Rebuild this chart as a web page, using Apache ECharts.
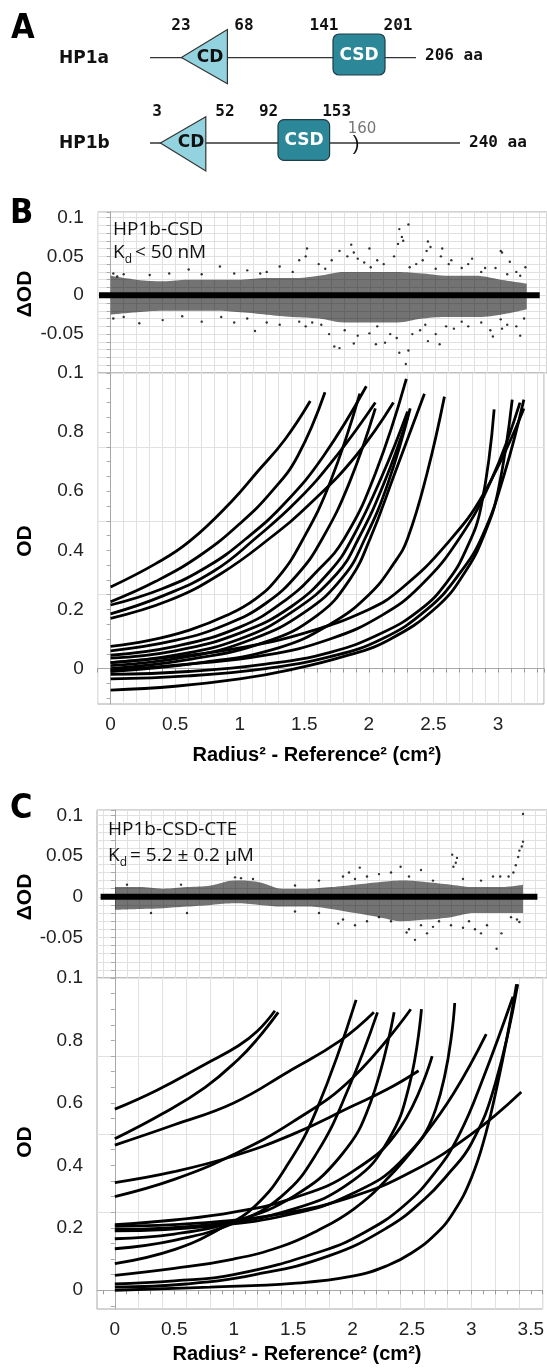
<!DOCTYPE html>
<html><head><meta charset="utf-8">
<script src="https://cdn.jsdelivr.net/npm/echarts@6.0.0/dist/echarts.min.js"></script>
<style>html,body{margin:0;padding:0;background:#fff}#chart{width:547px;height:1368px}</style>
</head><body><div id="chart"></div>
<script>
// ---------------- Panel A (domain schematic) ----------------
const hp1aNumbers = ['23','68','141','201'];
const hp1bNumbers = ['3','52','92','153'];
const hp1aLength = '206 aa';
const hp1bLength = '240 aa';
const hp1bMark = '160';

// ---------------- Tick values / labels ----------------
const xTickValuesB = [0,0.5,1,1.5,2,2.5,3];
const xTickLabelsB = ['0','0.5','1','1.5','2','2.5','3'];
const xTickValuesC = [0,0.5,1,1.5,2,2.5,3,3.5];
const xTickLabelsC = ['0','0.5','1','1.5','2','2.5','3','3.5'];
const resTickValues = [0.1,0.05,0,-0.05,-0.1];
const resTickLabels = ['0.1','0.05','0','-0.05','0.1'];
const odTickValues = [0,0.2,0.4,0.6,0.8];
const odTickLabels = ['0','0.2','0.4','0.6','0.8'];

// ---------------- Panel B: fitted OD curves [r2-ref2, OD] ----------------
const fitB01 = [[0,0.276],[0.35,0.355],[0.61,0.43],[0.94,0.567],[1.135,0.665],[1.35,0.775],[1.546,0.905]];
const fitB02 = [[0,0.226],[0.35,0.295],[0.7,0.385],[1.0,0.49],[1.25,0.6],[1.45,0.72],[1.66,0.935]];
const fitB03 = [[0,0.215],[0.4,0.27],[0.75,0.345],[1.05,0.44],[1.35,0.56],[1.65,0.72],[1.98,0.955]];
const fitB04 = [[0,0.185],[0.4,0.245],[0.8,0.33],[1.12,0.44],[1.45,0.57],[1.75,0.72],[2.05,0.90]];
const fitB05 = [[0,0.17],[0.45,0.23],[0.85,0.32],[1.23,0.44],[1.55,0.56],[1.9,0.72],[2.19,0.90]];
const fitB06 = [[0,0.075],[0.3,0.095],[0.61,0.13],[0.9,0.18],[1.12,0.235],[1.3,0.31],[1.48,0.43],[1.7,0.63],[1.93,0.93]];
const fitB07 = [[0,0.06],[0.5,0.095],[0.9,0.15],[1.2,0.22],[1.45,0.32],[1.64,0.44],[1.85,0.63],[2.05,0.88]];
const fitB08 = [[0,0.045],[0.5,0.075],[1.0,0.14],[1.35,0.23],[1.6,0.33],[1.81,0.44],[2.05,0.66],[2.29,0.98]];
const fitB09 = [[0,0.035],[0.5,0.06],[1.0,0.12],[1.4,0.21],[1.7,0.33],[1.87,0.44],[2.1,0.65],[2.3,0.87]];
const fitB10 = [[0,0.02],[0.5,0.045],[1.0,0.1],[1.4,0.19],[1.75,0.32],[1.92,0.44],[2.12,0.63],[2.3,0.85]];
const fitB11 = [[0,0.01],[0.6,0.04],[1.1,0.1],[1.5,0.19],[1.8,0.31],[1.97,0.44],[2.15,0.63],[2.32,0.88]];
const fitB12 = [[0,0.0],[0.6,0.03],[1.2,0.09],[1.6,0.18],[1.85,0.3],[2.01,0.44],[2.2,0.66],[2.43,0.93]];
const fitB13 = [[0,-0.01],[0.7,0.02],[1.3,0.07],[1.7,0.15],[2.0,0.25],[2.2,0.36],[2.3,0.44],[2.45,0.66],[2.585,0.92]];
const fitB14 = [[0,0.02],[0.5,0.04],[1.0,0.07],[1.5,0.12],[2.0,0.2],[2.25,0.27],[2.6,0.42],[2.9,0.6],[3.2,0.88]];
const fitB15 = [[0,-0.005],[0.6,0.015],[1.2,0.045],[1.7,0.1],[2.1,0.18],[2.4,0.28],[2.7,0.44],[2.95,0.64],[3.17,0.9]];
const fitB16 = [[0,-0.02],[0.6,-0.01],[1.2,0.015],[1.7,0.055],[2.1,0.12],[2.4,0.2],[2.6,0.29],[2.75,0.4],[2.87,0.55],[2.97,0.877]];
const fitB17 = [[0,-0.073],[0.5,-0.06],[1.0,-0.035],[1.38,-0.005],[1.8,0.04],[2.15,0.096],[2.53,0.21],[2.75,0.33],[2.89,0.45],[3.0,0.6],[3.11,0.91]];
const fitB18 = [[0,-0.035],[0.6,-0.025],[1.2,0.0],[1.7,0.04],[2.1,0.1],[2.45,0.2],[2.7,0.32],[2.88,0.45],[3.05,0.66],[3.2,0.91]];

// ---------------- Panel B: residuals ----------------
const bandXB = [0,0.2,0.4,0.6,0.8,1.0,1.2,1.4,1.6,1.8,2.0,2.2,2.4,2.6,2.8,3.0,3.2];
const bandUpB = [0.025,0.02,0.018,0.02,0.02,0.02,0.022,0.022,0.025,0.03,0.03,0.03,0.028,0.025,0.025,0.02,0.015];
const bandLoB = [-0.025,-0.022,-0.02,-0.02,-0.02,-0.022,-0.025,-0.028,-0.03,-0.035,-0.035,-0.035,-0.03,-0.028,-0.028,-0.025,-0.018];
const residPosB = [[2.29,0.091],[2.22,0.085],[2.21,0.066],[2.44,0.069],[2.55,0.06],[1.85,0.065],[1.99,0.06],[1.51,0.06],[1.76,0.057],[3.0,0.057],[3.01,0.055],[2.78,0.047],[3.07,0.043],[3.19,0.036],[0.6,0.033],[0.84,0.037],[1.3,0.037],[2.43,0.057],[2.54,0.05],[0.02,0.028],[0.1,0.027],[0.45,0.028],[1.05,0.032],[1.45,0.045],[1.5,0.05],[1.82,0.05],[1.87,0.055],[1.95,0.042],[2.05,0.045],[2.18,0.05],[2.24,0.075],[2.25,0.07],[2.4,0.045],[2.46,0.062],[2.6,0.04],[2.62,0.045],[2.7,0.035],[2.75,0.04],[2.88,0.035],[2.96,0.035],[3.12,0.03],[3.15,0.025],[1.2,0.03],[1.6,0.04],[1.7,0.045],[1.9,0.047],[2.1,0.04],[2.35,0.04],[0.05,0.024],[0.3,0.026],[0.7,0.027],[0.95,0.028],[1.15,0.028],[1.4,0.03],[1.65,0.034],[2.0,0.036],[2.3,0.036],[2.5,0.034],[2.85,0.03],[3.05,0.027]];
const residNegB = [[2.27,-0.0885],[2.22,-0.074],[2.29,-0.071],[1.72,-0.066],[1.76,-0.068],[1.87,-0.062],[2.04,-0.063],[2.11,-0.061],[2.44,-0.059],[2.53,-0.063],[2.94,-0.053],[3.15,-0.052],[1.11,-0.046],[0.22,-0.036],[0.02,-0.03],[2.64,-0.043],[1.99,-0.049],[3.01,-0.043],[0.4,-0.032],[0.7,-0.034],[0.95,-0.035],[1.3,-0.038],[1.5,-0.04],[1.68,-0.05],[1.8,-0.045],[1.9,-0.052],[2.15,-0.05],[2.2,-0.055],[2.32,-0.05],[2.38,-0.045],[2.5,-0.05],[2.58,-0.04],[2.75,-0.04],[2.85,-0.035],[2.92,-0.045],[3.05,-0.038],[3.12,-0.04],[3.18,-0.03],[1.2,-0.035],[1.55,-0.035],[0.1,-0.028],[0.55,-0.027],[0.85,-0.028],[1.05,-0.03],[1.45,-0.034],[1.62,-0.038],[2.05,-0.04],[2.42,-0.038],[2.7,-0.034],[3.0,-0.031]];
const zeroLineB = [[-0.09,0],[3.3,0]];

// ---------------- Panel C: fitted OD curves ----------------
const fitC01 = [[0,0.58],[0.35,0.64],[0.76,0.724],[1.04,0.783],[1.2,0.83],[1.347,0.895]];
const fitC02 = [[0,0.485],[0.4,0.565],[0.76,0.65],[1.04,0.74],[1.2,0.805],[1.375,0.89]];
const fitC03 = [[0,0.465],[0.5,0.53],[1.0,0.6],[1.46,0.7],[1.9,0.8],[2.18,0.89]];
const fitC04 = [[0,0.345],[0.5,0.38],[1.0,0.43],[1.5,0.5],[2.0,0.59],[2.3,0.645],[2.556,0.703]];
const fitC05 = [[0,0.30],[0.5,0.355],[1.0,0.435],[1.5,0.54],[2.0,0.68],[2.49,0.9]];
const fitC06 = [[0,0.21],[0.5,0.225],[1.0,0.25],[1.5,0.295],[2.0,0.38],[2.4,0.52],[2.67,0.75]];
const fitC07 = [[0,0.205],[0.7,0.215],[1.4,0.245],[2.0,0.3],[2.5,0.38],[3.0,0.5],[3.42,0.635]];
const fitC08 = [[0,0.195],[0.8,0.21],[1.5,0.26],[2.0,0.35],[2.3,0.48],[2.48,0.66],[2.58,0.9]];
const fitC09 = [[0,0.19],[0.8,0.205],[1.5,0.245],[2.0,0.31],[2.4,0.41],[2.7,0.58],[2.86,0.92]];
const fitC10 = [[0,0.165],[0.5,0.18],[1.0,0.22],[1.5,0.3],[1.9,0.43],[2.15,0.6],[2.35,0.89]];
const fitC11 = [[0,0.133],[0.5,0.16],[1.0,0.215],[1.4,0.3],[1.7,0.44],[1.97,0.65],[2.21,0.89]];
const fitC12 = [[0,0.085],[0.5,0.13],[0.9,0.2],[1.18,0.27],[1.45,0.4],[1.7,0.58],[2.03,0.93]];
const fitC13 = [[0,0.048],[0.5,0.07],[1.0,0.1],[1.4,0.14],[1.7,0.19],[2.01,0.26],[2.3,0.36],[2.57,0.48],[2.85,0.63],[3.125,0.82]];
const fitC14 = [[0,0.02],[0.5,0.03],[1.0,0.05],[1.74,0.125],[2.1,0.185],[2.43,0.27],[2.7,0.38],[2.9,0.5],[3.1,0.68],[3.35,0.94]];
const fitC15 = [[0,0.01],[0.6,0.02],[1.18,0.05],[1.8,0.11],[2.29,0.2],[2.6,0.29],[2.8,0.37],[3.0,0.47],[3.2,0.66],[3.39,0.98]];
const fitC16 = [[0,0.0],[0.8,0.01],[1.5,0.022],[2.0,0.045],[2.3,0.08],[2.5,0.12],[2.7,0.18],[2.85,0.25],[3.0,0.36],[3.12,0.5],[3.22,0.66],[3.32,0.85],[3.38,0.98]];

// ---------------- Panel C: residuals ----------------
const bandXC = [0,0.2,0.4,0.6,0.8,1.0,1.2,1.4,1.6,1.8,2.0,2.2,2.4,2.6,2.8,3.0,3.2,3.4];
const bandUpC = [0.012,0.012,0.01,0.012,0.014,0.02,0.018,0.01,0.01,0.012,0.015,0.018,0.02,0.018,0.015,0.012,0.012,0.015];
const bandLoC = [-0.016,-0.015,-0.014,-0.012,-0.01,-0.008,-0.01,-0.012,-0.012,-0.015,-0.02,-0.025,-0.03,-0.028,-0.025,-0.02,-0.02,-0.02];
const residPosC = [[3.40,0.102],[3.40,0.068],[3.39,0.062],[3.37,0.057],[3.36,0.049],[3.34,0.039],[3.32,0.03],[2.81,0.052],[2.85,0.048],[2.82,0.037],[2.84,0.042],[2.04,0.036],[2.38,0.037],[2.55,0.033],[3.21,0.025],[2.3,0.03],[2.2,0.028],[1.9,0.025],[0.1,0.015],[0.55,0.015],[1.0,0.024],[1.05,0.023],[1.15,0.022],[1.5,0.014],[1.7,0.02],[2.1,0.025],[2.45,0.025],[2.65,0.02],[2.9,0.022],[3.05,0.02],[3.15,0.025],[3.28,0.025],[2.0,0.022],[1.95,0.03]];
const residNegC = [[2.5,-0.053],[3.18,-0.064],[2.43,-0.044],[3.05,-0.045],[3.22,-0.045],[1.86,-0.033],[2.0,-0.035],[3.37,-0.031],[2.65,-0.037],[2.45,-0.04],[2.55,-0.035],[2.7,-0.03],[2.9,-0.038],[2.95,-0.03],[3.1,-0.035],[3.3,-0.025],[3.35,-0.028],[1.9,-0.028],[2.1,-0.03],[2.2,-0.025],[2.3,-0.03],[0.3,-0.02],[0.6,-0.02],[1.5,-0.018],[1.7,-0.02],[2.8,-0.035],[3.0,-0.04],[2.6,-0.045]];
const zeroLineC = [[-0.12,0],[3.52,0]];

const fitsB = [fitB01,fitB02,fitB03,fitB04,fitB05,fitB06,fitB07,fitB08,fitB09,fitB10,fitB11,fitB12,fitB13,fitB14,fitB15,fitB16,fitB17,fitB18];
const fitsC = [fitC01,fitC02,fitC03,fitC04,fitC05,fitC06,fitC07,fitC08,fitC09,fitC10,fitC11,fitC12,fitC13,fitC14,fitC15,fitC16];

// ---------------- helpers ----------------
const GRID = '#e1e1e1', NONE = 'rgba(0,0,0,0)', FRAME = '#a8a8a8';
const TICKFONT = {fontFamily:'"Liberation Sans", Arial, sans-serif', fontSize:19, color:'#222'};
function steps(a, b, s){ const out=[]; const n=Math.round((b-a)/s); for(let i=0;i<=n;i++) out.push(+(a+i*s).toFixed(4)); return out; }
const odMinorTicksB = steps(-0.1, 1.0, 0.05);
const odMinorTicksC = steps(-0.05, 1.0, 0.05);
const xMinorTicksC = steps(-0.1, 3.6, 0.1);

function pick(values, labels){
  return function(v){ for (let i=0;i<values.length;i++){ if (Math.abs(values[i]-v)<1e-6) return labels[i]; } return ''; };
}
function zip(xs, ys){ return xs.map((x,i)=>[x, ys[i]]); }
function fitSeries(d, xi, yi){
  return {type:'line', xAxisIndex:xi, yAxisIndex:yi, data:d, smooth:0.45,
    symbol:'none', showSymbol:false, lineStyle:{color:'#000', width:2.8}, silent:true, z:3, clip:true};
}
function bandSeries(xs, ys, xi, yi){
  return {type:'line', xAxisIndex:xi, yAxisIndex:yi, data:zip(xs,ys), smooth:0.4, symbol:'none',
    lineStyle:{width:0}, areaStyle:{color:'#000', opacity:0.55, origin:'auto'}, silent:true, z:2};
}
function dotSeries(d, xi, yi){
  return {type:'scatter', xAxisIndex:xi, yAxisIndex:yi, data:d, symbolSize:2.4, itemStyle:{color:'#000'}, silent:true, z:4};
}
function zeroSeries(d, xi, yi){
  return {type:'line', xAxisIndex:xi, yAxisIndex:yi, data:d, symbol:'none', lineStyle:{color:'#000', width:6}, silent:true, z:5};
}

const series = [];
fitsB.forEach(f=>series.push(fitSeries(f,1,1)));
fitsC.forEach(f=>series.push(fitSeries(f,3,3)));
series.push(bandSeries(bandXB, bandUpB, 0, 0), bandSeries(bandXB, bandLoB, 0, 0));
series.push(bandSeries(bandXC, bandUpC, 2, 2), bandSeries(bandXC, bandLoC, 2, 2));
series.push(dotSeries(residPosB,0,0), dotSeries(residNegB,0,0), dotSeries(residPosC,2,2), dotSeries(residNegC,2,2));
series.push(zeroSeries(zeroLineB,0,0), zeroSeries(zeroLineC,2,2));

function xAx(grid, min, max, interval, colors, labels, tickVals){
  const tick = {show:!!labels, length:4, lineStyle:{color:'#999'}};
  if (labels && tickVals) tick.customValues = tickVals;
  return {type:'value', gridIndex:grid, min, max, interval,
    axisLine:{show:!!labels, lineStyle:{color:FRAME}},
    axisTick:tick,
    axisLabel: labels ? Object.assign({show:true, margin:11, formatter:pick(labels[0], labels[1])}, TICKFONT) : {show:false},
    splitLine:{show:true, lineStyle:{color:colors, width:1}}};
}
function yAx(grid, min, max, colors, labels, tickVals){
  const tick = {show:true, length:4, lineStyle:{color:'#aaa'}};
  if (tickVals) tick.customValues = tickVals;
  return {type:'value', gridIndex:grid, min, max, interval:0.01,
    axisLine:{show:true, lineStyle:{color:FRAME}},
    axisTick:tick,
    axisLabel:Object.assign({show:true, margin:14, formatter:pick(labels[0], labels[1])}, TICKFONT),
    splitLine:{show:true, lineStyle:{color:colors, width:1}}};
}

// ---------------- text layout helpers ----------------
const mctx = document.createElement('canvas').getContext('2d');
function tw(t, f){ mctx.font = f; return mctx.measureText(t).width; }
const ANN = '"Open Sans", sans-serif';
const fBig = '19px ' + ANN, fSub = '12px ' + ANN;
function txt(t, x, y, font, fill, align, rot){
  return {type:'text', x, y, rotation: rot||0, silent:true, z:10,
    style:{text:t, font, fill:fill||'#111', align:align||'left', verticalAlign:'middle'}};
}
function kd(x, y, rest){
  const kw = tw('K', fBig), dw = tw('d', fSub);
  return [txt('K', x, y, fBig), txt('d', x+kw, y+7, fSub), txt(rest, x+kw+dw+3, y, fBig)];
}

const LBL = 'bold 17px "DejaVu Sans", Verdana, sans-serif';
const NUM = 'bold 16px "DejaVu Sans Mono", monospace';
const PANEL = 'bold 34px "Liberation Sans Narrow", "DejaVu Sans Condensed", sans-serif';
const AXT = 'bold 21px "Liberation Sans", Arial, sans-serif';
const XT = 'bold 20px "Liberation Sans", Arial, sans-serif';
const teal = '#2c8799', cyan = '#93d3df';

const graphic = [
  txt('A', 11, 29, PANEL, '#000'),
  txt('B', 10, 214, PANEL, '#000'),
  txt('C', 10, 809, PANEL, '#000'),
  // HP1a
  txt('HP1a', 59, 59, LBL, '#111'),
  {type:'line', shape:{x1:150, y1:57.6, x2:416, y2:57.6}, style:{stroke:'#333', lineWidth:1.3}, z:5},
  {type:'polygon', shape:{points:[[181.4,57.6],[227.4,29.6],[227.4,83.7]]}, style:{fill:cyan, stroke:'#333', lineWidth:1.2}, z:6},
  txt('CD', 210, 58, LBL, '#111', 'center'),
  {type:'rect', shape:{x:333, y:34, width:52, height:41, r:6}, style:{fill:teal, stroke:'#1d3d46', lineWidth:1.2}, z:6},
  txt('CSD', 359, 56, LBL, '#fff', 'center'),
  txt(hp1aNumbers[0], 181, 26, NUM, '#111', 'center'),
  txt(hp1aNumbers[1], 244, 26, NUM, '#111', 'center'),
  txt(hp1aNumbers[2], 324, 26, NUM, '#111', 'center'),
  txt(hp1aNumbers[3], 398, 26, NUM, '#111', 'center'),
  txt(hp1aLength, 425, 56, NUM, '#111'),
  // HP1b
  txt('HP1b', 59, 144, LBL, '#111'),
  {type:'line', shape:{x1:150, y1:143, x2:460, y2:143}, style:{stroke:'#333', lineWidth:1.3}, z:5},
  {type:'polygon', shape:{points:[[160.4,143],[205.8,116.8],[205.8,171]]}, style:{fill:cyan, stroke:'#333', lineWidth:1.2}, z:6},
  txt('CD', 191, 143, LBL, '#111', 'center'),
  {type:'rect', shape:{x:278, y:119.6, width:51.6, height:40.8, r:6}, style:{fill:teal, stroke:'#1d3d46', lineWidth:1.2}, z:6},
  txt('CSD', 304, 141, LBL, '#fff', 'center'),
  txt(')', 356, 144, '20px "Liberation Sans", sans-serif', '#111', 'center'),
  txt(hp1bMark, 362, 129, '15px "DejaVu Sans", sans-serif', '#777', 'center'),
  txt(hp1bNumbers[0], 157, 111.6, NUM, '#111', 'center'),
  txt(hp1bNumbers[1], 225, 111.6, NUM, '#111', 'center'),
  txt(hp1bNumbers[2], 268.6, 111.6, NUM, '#111', 'center'),
  txt(hp1bNumbers[3], 336.6, 111.6, NUM, '#111', 'center'),
  txt(hp1bLength, 469, 143, NUM, '#111'),
  // annotations
  txt('HP1b-CSD', 113, 230, fBig),
  ...kd(113, 253, '< 50 nM'),
  txt('HP1b-CSD-CTE', 108, 830, fBig),
  ...kd(108, 856, '= 5.2 \u00b1 0.2 \u03bcM'),
  // axis titles
  txt('\u0394OD', 25, 294, AXT, '#000', 'center', Math.PI/2),
  txt('OD', 25, 541, AXT, '#000', 'center', Math.PI/2),
  txt('\u0394OD', 25, 897, AXT, '#000', 'center', Math.PI/2),
  txt('OD', 25, 1142, AXT, '#000', 'center', Math.PI/2),
  txt('Radius\u00b2 - Reference\u00b2 (cm\u00b2)', 317, 755, XT, '#000', 'center'),
  txt('Radius\u00b2 - Reference\u00b2 (cm\u00b2)', 297, 1354, XT, '#000', 'center')
];

const option = {
  animation:false,
  backgroundColor:'#fff',
  grid:[
    {left:97.7, right:0, top:212, height:161, show:true, borderColor:FRAME, borderWidth:1, containLabel:false},
    {left:97.7, right:0, top:373, height:331, show:true, borderColor:FRAME, borderWidth:1, containLabel:false},
    {left:97, right:0, top:810, height:168, show:true, borderColor:FRAME, borderWidth:1, containLabel:false},
    {left:97, right:0, top:978, height:331, show:true, borderColor:FRAME, borderWidth:1, containLabel:false}
  ],
  xAxis:[
    xAx(0, -0.1, 3.356, 0.1, GRID, null, null),
    xAx(1, -0.1, 3.356, 0.1, GRID, [xTickValuesB, xTickLabelsB], null),
    xAx(2, -0.15, 3.6, 0.05, [NONE, GRID], null, null),
    xAx(3, -0.15, 3.6, 0.05, [NONE, GRID], [xTickValuesC, xTickLabelsC], xMinorTicksC)
  ],
  yAxis:[
    yAx(0, -0.1, 0.107, GRID, [resTickValues, resTickLabels], null),
    yAx(1, -0.12, 1.0, [NONE, NONE, GRID, NONE, NONE], [odTickValues, odTickLabels], odMinorTicksB),
    yAx(2, -0.1, 0.107, GRID, [resTickValues, resTickLabels], null),
    yAx(3, -0.06, 1.0, [NONE, GRID, NONE, NONE, NONE], [odTickValues, odTickLabels], odMinorTicksC)
  ],
  series,
  graphic
};
const chart = echarts.init(document.getElementById('chart'), null, {renderer:'canvas'});
chart.setOption(option);
</script></body></html>
